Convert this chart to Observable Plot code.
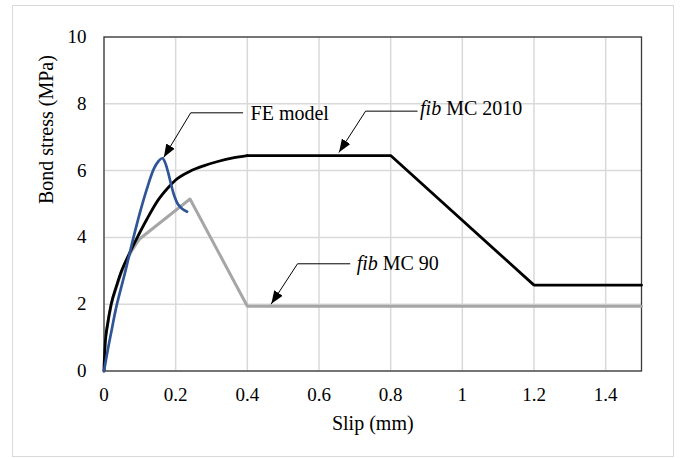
<!DOCTYPE html>
<html><head><meta charset="utf-8">
<script src="https://cdn.jsdelivr.net/npm/d3@7"></script>
<script src="https://cdn.jsdelivr.net/npm/@observablehq/plot@0.6"></script>
<style>
body{margin:0;background:#fff;}
#wrap{position:relative;width:680px;height:458px;}
#chart{position:absolute;left:0;top:0;}
#border{position:absolute;left:12px;top:5px;width:662px;height:452px;border:1.5px solid #d9d9d9;box-sizing:border-box;pointer-events:none;}
</style></head><body>
<div id="wrap"><div id="chart"></div><div id="border"></div></div>
<script>
// ---- data ----
const xTicks = [0, 0.2, 0.4, 0.6, 0.8, 1, 1.2, 1.4];
const xTickLabels = ["0", "0.2", "0.4", "0.6", "0.8", "1", "1.2", "1.4"];
const yTicks = [0, 2, 4, 6, 8, 10];
const yTickLabels = ["0", "2", "4", "6", "8", "10"];

// fib MC 2010
const mc2010Slip   = [0, 0.003, 0.01, 0.02, 0.035, 0.048, 0.07, 0.093, 0.12, 0.15, 0.18, 0.2, 0.24, 0.28, 0.32, 0.36, 0.4, 0.8, 1.2, 1.5];
const mc2010Stress = [0, 0.8, 1.4, 2.0, 2.55, 2.97, 3.5, 4.0, 4.55, 5.1, 5.5, 5.72, 5.98, 6.15, 6.28, 6.38, 6.45, 6.45, 2.57, 2.57];
// fib MC 90
const mc90Slip   = [0, 0.003, 0.01, 0.02, 0.035, 0.048, 0.07, 0.1, 0.24, 0.4, 1.5];
const mc90Stress = [0, 0.78, 1.38, 1.97, 2.52, 2.93, 3.45, 3.96, 5.15, 1.94, 1.94];
// FE model
const feSlip   = [0, 0.01, 0.02, 0.035, 0.06, 0.08, 0.102, 0.121, 0.139, 0.152, 0.163, 0.172, 0.18, 0.188, 0.196, 0.206, 0.218, 0.232];
const feStress = [0, 0.6, 1.15, 1.95, 3.0, 3.9, 4.81, 5.5, 6.05, 6.28, 6.37, 6.2, 5.9, 5.55, 5.25, 5.0, 4.86, 4.77];

// annotations (data units)
const annLabels = ["FE model", "fib MC 2010", "fib MC 90"];
const annTipX   = [0.167, 0.656, 0.467];
const annTipY   = [6.40, 6.55, 2.01];
const annElbowX = [0.242, 0.730, 0.540];
const annElbowY = [7.73, 7.78, 3.21];
const annEndX   = [0.387, 0.874, 0.686];
const annTextX  = [0.409, 0.882, 0.705];
const annTextY  = [7.70, 7.85, 3.21];

// ---- tables ----
const toRows = (xs, ys) => xs.map((x, i) => ({x, y: ys[i]}));
const mc2010 = toRows(mc2010Slip, mc2010Stress);
const mc90 = toRows(mc90Slip, mc90Stress);
const fe = toRows(feSlip, feStress);
const leaders = annLabels.flatMap((l, i) => [
  {id: "a" + i, x: annEndX[i], y: annElbowY[i]},
  {id: "a" + i, x: annElbowX[i], y: annElbowY[i]},
  {id: "a" + i, x: annTipX[i], y: annTipY[i]}
]);
const annText = annLabels.map((l, i) => ({label: l, x: annTextX[i], y: annTextY[i]}));

const font = "'Liberation Serif', 'Times New Roman', serif";
const LEADER = "#010101";

const chart = Plot.plot({
  width: 680, height: 458,
  marginLeft: 103.5, marginRight: 39, marginTop: 36.5, marginBottom: 87.5,
  style: {fontFamily: font, fontSize: "19px", color: "#000", background: "transparent"},
  x: {domain: [0, 1.5]},
  y: {domain: [0, 10]},
  marks: [
    Plot.gridX(xTicks, {stroke: "#d9d9d9", strokeOpacity: 1, strokeWidth: 1.5}),
    Plot.gridY(yTicks, {stroke: "#d9d9d9", strokeOpacity: 1, strokeWidth: 1.5}),
    Plot.frame({stroke: "#3a3a3a", strokeWidth: 1.3}),
    Plot.axisX({ticks: xTicks, tickFormat: d => xTickLabels[xTicks.indexOf(d)], tickSize: 0, tickPadding: 16.5, label: null, fontSize: 19}),
    Plot.axisY({ticks: yTicks, tickFormat: d => yTickLabels[yTicks.indexOf(d)], tickSize: 0, tickPadding: 17.5, label: null, fontSize: 19}),
    Plot.text(["Slip (mm)"], {frameAnchor: "bottom", dy: 59, fontSize: 20, fill: "#000"}),
    Plot.text(["Bond stress (MPa)"], {frameAnchor: "left", dx: -57.5, rotate: -90, fontSize: 20, fill: "#000"}),
    // fib MC 90
    Plot.line(mc90.filter(d => d.x <= 0.1), {x: "x", y: "y", stroke: "#a6a6a6", strokeWidth: 3, curve: "monotone-x"}),
    Plot.line(mc90.filter(d => d.x >= 0.1), {x: "x", y: "y", stroke: "#a6a6a6", strokeWidth: 3}),
    // fib MC 2010
    Plot.line(mc2010.filter(d => d.x <= 0.4), {x: "x", y: "y", stroke: "#000", strokeWidth: 2.8, curve: "monotone-x"}),
    Plot.line(mc2010.filter(d => d.x >= 0.4), {x: "x", y: "y", stroke: "#000", strokeWidth: 2.8, strokeLinejoin: "miter"}),
    // FE model
    Plot.line(fe, {x: "x", y: "y", stroke: "#2f5597", strokeWidth: 2.7, curve: "catmull-rom"}),
    // annotations
    Plot.line(leaders, {x: "x", y: "y", z: "id", stroke: LEADER, strokeWidth: 1}),
    Plot.text(annText, {x: "x", y: "y", text: "label", textAnchor: "start", fontSize: 20, fill: "#000"})
  ]
});
document.getElementById("chart").appendChild(chart);

// arrowheads on leaders
const svg = d3.select(chart);
svg.append("defs").append("marker")
  .attr("id", "ah").attr("viewBox", "0 0 13 10").attr("refX", 13).attr("refY", 5)
  .attr("markerWidth", 13).attr("markerHeight", 10).attr("markerUnits", "userSpaceOnUse")
  .attr("orient", "auto")
  .append("path").attr("d", "M0,0L13,5L0,10Z").attr("fill", "#000");
svg.selectAll("g").filter(function() { return this.getAttribute("stroke") === LEADER; })
  .selectAll("path").attr("marker-end", "url(#ah)");

// italic "fib"
svg.selectAll("text").each(function() {
  const t = this.textContent;
  if (t.startsWith("fib ")) {
    const el = d3.select(this);
    el.text(null);
    el.append("tspan").attr("font-style", "italic").text("fib");
    el.append("tspan").text(t.slice(3));
  }
});
</script>
</body></html>
